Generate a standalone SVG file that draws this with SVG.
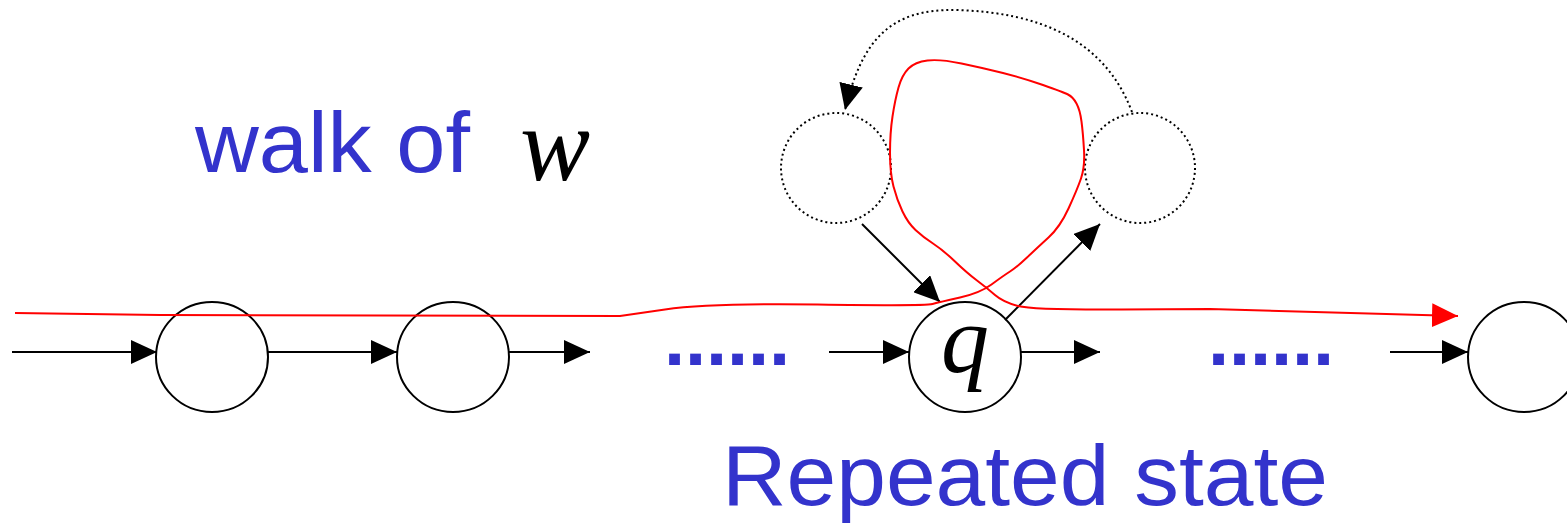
<svg xmlns="http://www.w3.org/2000/svg" width="1567" height="527" viewBox="0 0 1567 527">
<style>
.st{fill:#fff;stroke:#000;stroke-width:2}
.dot{fill:none;stroke:#000;stroke-width:2;stroke-dasharray:2 3}
.ln{fill:none;stroke:#000;stroke-width:2}
.red{fill:none;stroke:#ff0000;stroke-width:2;stroke-linejoin:round}
.blue{fill:#3333cc;font-family:"Comic Sans MS","Liberation Sans",sans-serif}
.math{fill:#000;font-family:"Liberation Serif",serif;font-style:italic}
</style>
<defs>
<marker id="ah" viewBox="0 0 26 24" refX="26" refY="12" markerWidth="26" markerHeight="24" markerUnits="userSpaceOnUse" orient="auto">
<path d="M0,0 L26,12 L0,24 z" fill="#000"/>
</marker>
<marker id="ahr" viewBox="0 0 26 24" refX="26" refY="12" markerWidth="26" markerHeight="24" markerUnits="userSpaceOnUse" orient="auto">
<path d="M0,0 L26,12 L0,24 z" fill="#ff0000"/>
</marker>
</defs>
<g id="s1"><ellipse class="st" cx="212" cy="357" rx="56" ry="55"/></g>
<g id="s2"><ellipse class="st" cx="453" cy="357" rx="56" ry="55"/></g>
<g id="q"><ellipse class="st" cx="965" cy="357" rx="56" ry="55"/><text class="math" x="965" y="372" font-size="96" text-anchor="middle">q</text></g>
<g id="s4"><ellipse class="st" cx="1524" cy="357" rx="56" ry="55"/></g>
<g id="d1"><circle class="dot" cx="836" cy="168" r="55"/></g>
<g id="d2"><circle class="dot" cx="1140" cy="168" r="55"/></g>
<g id="connectors">
<line class="ln" x1="12" y1="352" x2="157" y2="352" marker-end="url(#ah)"/>
<line class="ln" x1="268" y1="352" x2="397" y2="352" marker-end="url(#ah)"/>
<line class="ln" x1="509" y1="352" x2="590" y2="352" marker-end="url(#ah)"/>
<line class="ln" x1="829" y1="352" x2="909" y2="352" marker-end="url(#ah)"/>
<line class="ln" x1="1021" y1="352" x2="1100" y2="352" marker-end="url(#ah)"/>
<line class="ln" x1="1390" y1="352" x2="1468" y2="352" marker-end="url(#ah)"/>
<line class="ln" x1="862" y1="224" x2="940" y2="302" marker-end="url(#ah)"/>
<line class="ln" x1="1005" y1="320" x2="1100" y2="224" marker-end="url(#ah)"/>
<path class="dot" d="M1132,112 C1105,40 1040,12 955,10 C890,9 862,40 845,110" marker-end="url(#ah)"/>
<path class="red" d="M15,313 L160,315 L620,316 L665,309.5 Q710,303 817.5,304.5 Q925,306 932.5,304 Q940,302 960,297.5 Q980,293 991.5,284.5 Q1003,276 1010,271.5 Q1017,267 1027,257.5 Q1037,248 1048.5,237.5 Q1060,227 1068.5,208.5 Q1077,190 1081,178.5 Q1085,167 1084,150 Q1083,133 1081.5,121.5 Q1080,110 1076.5,103.5 Q1073,97 1068,94.5 Q1063,92 1043,85 Q1023,78 1003,73 Q983,68 961.5,63.5 Q940,59 927.5,60.5 Q915,62 908.5,68.5 Q902,75 898.5,87.5 Q895,100 892.5,116.5 Q890,133 890,153 Q890,173 893.5,186.5 Q897,200 902.5,211.5 Q908,223 915.5,230 Q923,237 933,243.5 Q943,250 955,261.5 Q967,273 977,280.5 Q987,288 995,295 Q1003,302 1018,306 Q1033,310 1121.5,309.5 L1210,309 L1458,316" marker-end="url(#ahr)"/>
</g>
<text class="blue" x="664" y="365" font-size="76" font-weight="bold" textLength="126" lengthAdjust="spacing">......</text>
<text class="blue" x="1208" y="365" font-size="76" font-weight="bold" textLength="126" lengthAdjust="spacing">......</text>
<text class="blue" x="195" y="172" font-size="86" textLength="275" lengthAdjust="spacingAndGlyphs">walk of</text>
<text class="math" x="520" y="180" font-size="105">w</text>
<text class="blue" x="722" y="505" font-size="86" textLength="606" lengthAdjust="spacingAndGlyphs">Repeated state</text>
</svg>
